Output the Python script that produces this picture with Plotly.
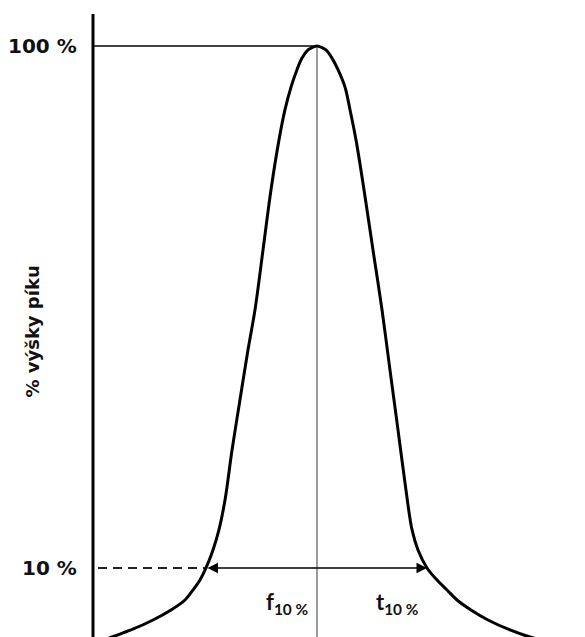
import plotly.graph_objects as go

# Peak profile (arbitrary time units, % of peak height)
t_vals = [0.9, 1.9, 3.8, 6.0, 7.8, 9.2, 10.0, 10.7, 11.3, 12.0, 12.6, 13.2, 13.9, 14.7, 15.5,
          16.2, 17.0, 17.8, 18.6, 19.2, 19.8, 20.4, 20.9, 21.5, 21.9, 22.4,
          22.9, 23.3, 23.9, 24.5, 25.2, 25.7, 26.3, 27.1, 28.0, 28.9, 29.7, 30.5, 31.3,
          31.9, 32.5, 33.4, 34.4, 35.4, 36.4, 37.8, 39.5, 41.7, 43.7, 46.2]
pct_vals = [-2.6, -1.9, -0.69, 1.03, 2.76, 4.48, 6.21, 7.93, 10.0, 13.1, 16.6, 21.7, 30.3, 39.0, 47.6,
            54.5, 64.8, 75.2, 83.8, 89.0, 92.9, 95.9, 97.9, 99.3, 99.7, 100.0,
            99.7, 99.3, 97.9, 95.9, 92.9, 89.0, 83.8, 75.2, 64.8, 54.5, 44.1, 33.8, 23.4,
            16.6, 13.1, 10.0, 7.93, 6.21, 4.48, 2.76, 1.03, -0.69, -1.90, -2.93]

peak_t = 22.4
front_t = 11.3
tail_t = 33.4
tick_labels = ["100 %", "10 %"]
tick_values = [100, 10]
y_title = "% výšky píku"
f_label = "f<sub>10 %</sub>"
t_label = "t<sub>10 %</sub>"

W, H = 585, 637
ML, MT = 91, 14
x_range = [-0.2, 49.2]
y_range = [-1.9, 105.5]

fig = go.Figure()

# vertical line from peak
fig.add_trace(go.Scatter(x=[peak_t, peak_t], y=[100, y_range[0]], mode="lines",
                         line=dict(color="#7a7a7a", width=1.5), hoverinfo="skip"))
# horizontal 100 % line
fig.add_trace(go.Scatter(x=[0, peak_t], y=[100, 100], mode="lines",
                         line=dict(color="black", width=1.5), hoverinfo="skip"))
# dashed 10 % line
fig.add_trace(go.Scatter(x=[0.5, front_t], y=[10, 10], mode="lines",
                         line=dict(color="#222", width=2, dash="9px,6px"), hoverinfo="skip"))
# peak curve
fig.add_trace(go.Scatter(x=t_vals, y=pct_vals, mode="lines",
                         line=dict(color="black", width=3, shape="spline", smoothing=1.0),
                         hoverinfo="skip"))

# y axis line
fig.add_shape(type="line", xref="x", yref="y", x0=0, x1=0, y0=y_range[0], y1=y_range[1],
              line=dict(color="black", width=3))

# double arrow at 10 %
fig.add_annotation(x=tail_t, y=10, ax=front_t, ay=10, xref="x", yref="y", axref="x", ayref="y",
                   text="", showarrow=True, arrowhead=2, arrowside="end+start",
                   arrowsize=1.4, arrowwidth=1.5, arrowcolor="black")

lab_font = dict(family="DejaVu Sans", size=20, color="#111")
for lab, v in zip(tick_labels, tick_values):
    fig.add_annotation(x=-0.024, y=v, xref="paper", yref="y", text="<b>%s</b>" % lab,
                       showarrow=False, xanchor="right", yanchor="middle", font=lab_font)

fig.add_annotation(x=-0.118, y=50.7, xref="paper", yref="y", text="<b>%s</b>" % y_title,
                   textangle=-90, showarrow=False, xanchor="center", yanchor="middle",
                   font=dict(family="DejaVu Sans", size=18, color="#111"))

sub_font = dict(family="Lato", size=22, color="#111")
fig.add_annotation(x=19.4, y=4.0, xref="x", yref="y", text="<b>%s</b>" % f_label,
                   showarrow=False, xanchor="center", yanchor="middle", font=sub_font)
fig.add_annotation(x=30.45, y=4.0, xref="x", yref="y", text="<b>%s</b>" % t_label,
                   showarrow=False, xanchor="center", yanchor="middle", font=sub_font)

fig.update_layout(
    width=W, height=H, margin=dict(l=ML, r=0, t=MT, b=0),
    paper_bgcolor="white", plot_bgcolor="white", showlegend=False,
    xaxis=dict(range=x_range, visible=False, fixedrange=True),
    yaxis=dict(range=y_range, visible=False, fixedrange=True),
)

fig.write_html("out.html")
